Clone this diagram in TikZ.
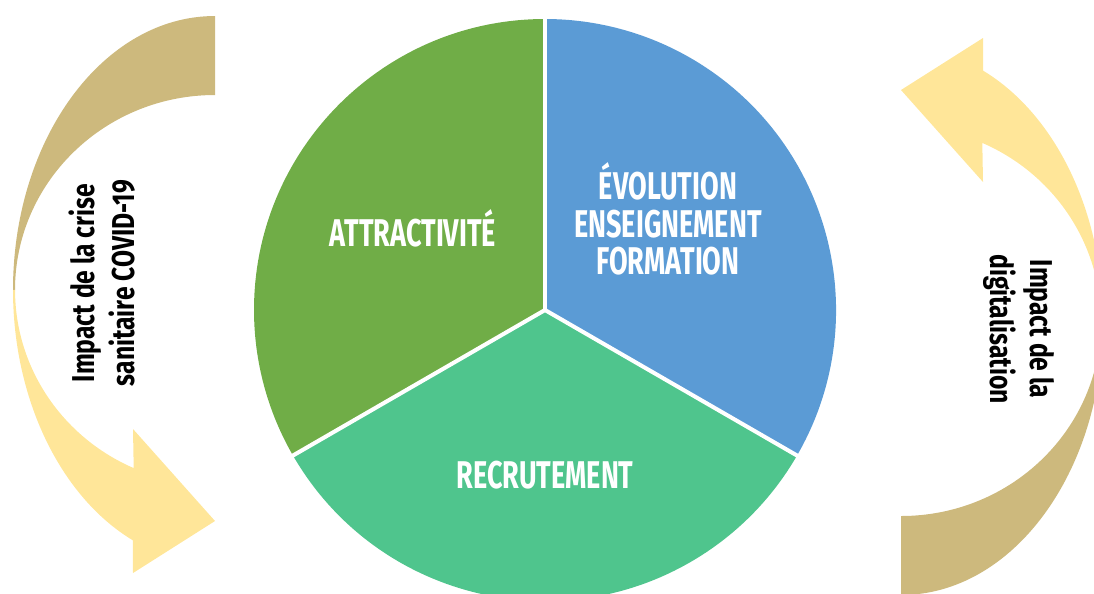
\documentclass[tikz,border=0pt]{standalone}
\usepackage{fontspec}
\newfontfamily\agency[FakeStretch=0.7]{Fira Sans}
\newfontfamily\agencyside[FakeStretch=0.78]{Fira Sans}
\definecolor{attrgreen}{HTML}{70AD47}
\definecolor{evolblue}{HTML}{5B9BD5}
\definecolor{recrteal}{HTML}{4FC58D}
\definecolor{arrowtan}{HTML}{CDB97D}
\definecolor{arrowyellow}{HTML}{FFE699}
\newcommand\bentarrow{%
  \fill[arrowtan] (215,-16) arc[start angle=90,end angle=180,x radius=202,y radius=274]
    -- (15,-290) arc[start angle=180,end angle=90,x radius=200,y radius=195] -- cycle;
  \fill[arrowyellow] (13,-290) arc[start angle=180,end angle=246,x radius=202,y radius=274]
    -- (133,-573) -- (215,-521) -- (133,-429) -- (133.7,-468.1)
    arc[start angle=246,end angle=180,x radius=200,y radius=195] -- cycle;}

\begin{document}
\begin{tikzpicture}[x=0.02cm,y=0.02cm,
  sectorlabel/.style={text=white,align=center,font=\agency\bfseries\fontsize{22}{21.5}\selectfont},
  sidelabel/.style={text=black,align=center,font=\agencyside\bfseries\fontsize{18}{22.7}\selectfont}]
  \useasboundingbox (0,0) rectangle (1094,-593);
  \clip (0,0) rectangle (1094,-593);
  \coordinate (centre) at (545,-310);
  \fill[attrgreen] (centre) -- ++(90:291) arc[start angle=90,end angle=210,radius=291] -- cycle;
  \fill[recrteal] (centre) -- ++(210:291) arc[start angle=210,end angle=330,radius=291] -- cycle;
  \fill[evolblue] (centre) -- ++(330:291) arc[start angle=330,end angle=450,radius=291] -- cycle;
  \foreach \a in {90,210,330}
    \draw[white,line width=2.3pt] (centre) -- ++(\a:293);

  \bentarrow
  \begin{scope}[rotate around={180:(558,-305.5)}]
    \bentarrow
  \end{scope}

  \node[sectorlabel] (attr) at (413,-228) {ATTRACTIVITÉ};
  \node[sectorlabel] (evol) at (668,-219) {ÉVOLUTION\\ENSEIGNEMENT\\FORMATION};
  \node[sectorlabel] (recr) at (545,-475) {RECRUTEMENT};
  \node[sidelabel,rotate=90] (covid) at (102,-283) {Impact de la crise\\sanitaire COVID-19};
  \node[sidelabel,rotate=-90] (digital) at (1019,-329) {Impact de la\\digitalisation};
\end{tikzpicture}
\end{document}
